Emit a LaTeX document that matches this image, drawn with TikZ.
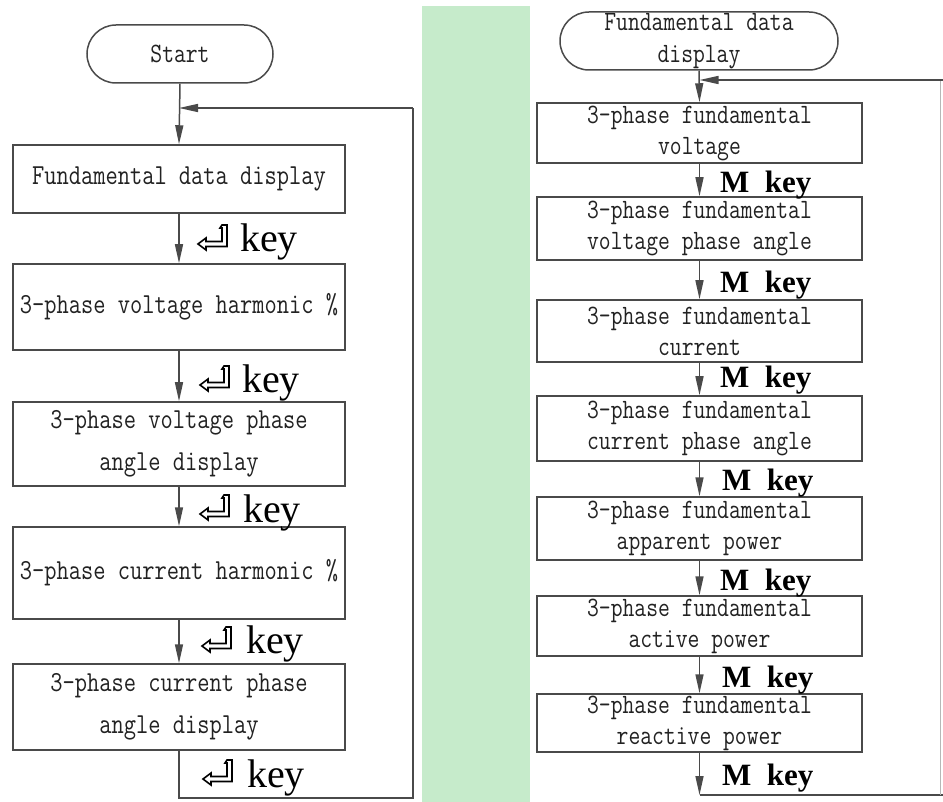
\documentclass[tikz,border=0pt]{standalone}
\usepackage{fontspec}
\usepackage{graphicx}
\setmainfont{Liberation Serif}
\newcommand\boxfnt{\ttfamily}
\newcommand\sq[1]{\scalebox{0.82}[1]{#1}}
\usetikzlibrary{arrows.meta}
\definecolor{band}{HTML}{C6EBCB}
\definecolor{ln}{HTML}{4A4A4A}
\definecolor{txt}{HTML}{222222}
\tikzset{
  line/.style={draw=ln, line width=1.5pt},
  arr/.style={line, -{Triangle[length=19pt,width=8pt]}},
  lbox/.style={draw=ln, line width=1.5pt, rectangle, minimum width=332pt, inner sep=0pt, align=center, text=txt, font=\boxfnt\fontsize{29}{42}\selectfont},
  rbox/.style={draw=ln, line width=1.5pt, rectangle, minimum width=325pt, inner sep=0pt, align=center, text=txt, font=\boxfnt\fontsize{28}{31}\selectfont},
  term/.style={draw=ln, line width=1.5pt, rectangle, rounded corners=29pt, minimum height=58pt, inner sep=0pt, align=center, text=txt, font=\boxfnt\fontsize{28}{32}\selectfont},
  keylbl/.style={anchor=base west, inner sep=0pt, font=\fontsize{40}{40}\selectfont},
  mkeylbl/.style={anchor=base west, inner sep=0pt, font=\bfseries\fontsize{31}{31}\selectfont},
  enterkey/.pic={
    \draw[line width=1.6pt, black, line join=miter]
      (0,0) -- (8,-6) -- (8,-2.5) -- (24,-2.5) -- (24,-16) -- (22,-16) -- (24,-19) -- (29,-19) -- (29,2.5) -- (8,2.5) -- (8,6) -- cycle;
  }
}
\begin{document}
\begin{tikzpicture}[x=1pt,y=-1pt]
\path[fill=white, use as bounding box] (0,0) rectangle (943,802);
\fill[band] (422,6) rectangle (530,802);

% ---------- left chart ----------
\node[term, minimum width=186pt] (start) at (180,54) {\sq{Start}};
\node[lbox, minimum height=68pt] (b1) at (179,179) {\sq{Fundamental data display}};
\node[lbox, minimum height=86pt] (b2) at (179,307) {\sq{3-phase voltage harmonic \%}};
\node[lbox, minimum height=84pt] (b3) at (179,444) {\sq{3-phase voltage phase}\\\sq{angle display}};
\node[lbox, minimum height=92pt] (b4) at (179,573) {\sq{3-phase current harmonic \%}};
\node[lbox, minimum height=86pt] (b5) at (179,707) {\sq{3-phase current phase}\\\sq{angle display}};

\coordinate (lj) at (179,108);
\coordinate (lc1) at (179,798);
\coordinate (lc2) at (413,798);
\coordinate (lc3) at (413,108);

\draw[arr] (start.south) -- (b1.north);
\draw[arr] (b1.south) -- (b2.north);
\draw[arr] (b2.south) -- (b3.north);
\draw[arr] (b3.south) -- (b4.north);
\draw[arr] (b4.south) -- (b5.north);
\draw[line] (b5.south) -- (lc1) -- (lc2) -- (lc3);
\draw[arr] (lc3) -- (lj);

\pic at (198,244) {enterkey};
\node[keylbl] (k1) at (240,252) {key};
\pic at (200,385) {enterkey};
\node[keylbl] (k2) at (242,393) {key};
\pic at (200,514) {enterkey};
\node[keylbl] (k3) at (243,522) {key};
\pic at (202,646) {enterkey};
\node[keylbl] (k4) at (246,653) {key};
\pic at (203,779) {enterkey};
\node[keylbl] (k5) at (247,787) {key};

% ---------- right chart ----------
\node[term, minimum width=278pt] (rstart) at (699,41) {\sq{Fundamental data}\\\sq{display}};
\node[rbox, minimum height=60pt] (r1) at (699.5,133) {\sq{3-phase fundamental}\\\sq{voltage}};
\node[rbox, minimum height=63pt] (r2) at (699.5,228.5) {\sq{3-phase fundamental}\\\sq{voltage phase angle}};
\node[rbox, minimum height=62pt] (r3) at (699.5,331) {\sq{3-phase fundamental}\\\sq{current}};
\node[rbox, minimum height=65pt] (r4) at (699.5,428.5) {\sq{3-phase fundamental}\\\sq{current phase angle}};
\node[rbox, minimum height=63pt] (r5) at (699.5,528.5) {\sq{3-phase fundamental}\\\sq{apparent power}};
\node[rbox, minimum height=60pt] (r6) at (699.5,626) {\sq{3-phase fundamental}\\\sq{active power}};
\node[rbox, minimum height=58pt] (r7) at (699.5,723) {\sq{3-phase fundamental}\\\sq{reactive power}};

\coordinate (rj) at (699.5,80);
\coordinate (rc1) at (699.5,795);
\coordinate (rc2) at (940,795);
\coordinate (rc3) at (940,80);
\coordinate (rc4) at (943,795);
\coordinate (rc5) at (943,80);

\draw[arr] (rstart.south) -- (r1.north);
\draw[arr] (r1.south) -- (r2.north);
\draw[arr] (r2.south) -- (r3.north);
\draw[arr] (r3.south) -- (r4.north);
\draw[arr] (r4.south) -- (r5.north);
\draw[arr] (r5.south) -- (r6.north);
\draw[arr] (r6.south) -- (r7.north);
\draw[arr] (r7.south) -- (rc1);
\draw[line] (rc1) -- (rc4);
\draw[draw=ln!40, line width=1pt] (rc2) -- (rc3);
\draw[arr] (rc5) -- (rj);

\node[mkeylbl] (m1) at (720,193) {M\enspace key};
\node[mkeylbl] (m2) at (720,293) {M\enspace key};
\node[mkeylbl] (m3) at (720,388) {M\enspace key};
\node[mkeylbl] (m4) at (722,490) {M\enspace key};
\node[mkeylbl] (m5) at (720,590) {M\enspace key};
\node[mkeylbl] (m6) at (722,687) {M\enspace key};
\node[mkeylbl] (m7) at (722,785) {M\enspace key};
\end{tikzpicture}
\end{document}
